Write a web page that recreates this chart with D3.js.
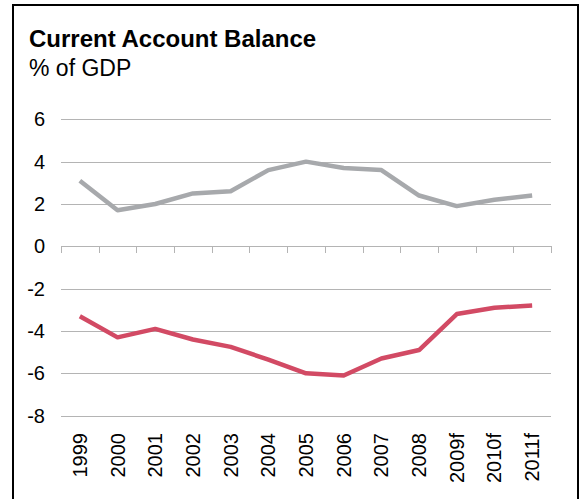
<!DOCTYPE html>
<html><head><meta charset="utf-8">
<script src="https://cdn.jsdelivr.net/npm/d3@7"></script>
<style>html,body{margin:0;padding:0;background:#fff;}svg{display:block;}</style>
</head><body>
<svg id="chart" width="580" height="499"></svg>
<script>
const categories = ["1999","2000","2001","2002","2003","2004","2005","2006","2007","2008","2009f","2010f","2011f"];
const seriesGray = [3.1, 1.7, 2.0, 2.5, 2.6, 3.6, 4.0, 3.7, 3.6, 2.4, 1.9, 2.2, 2.4];
const seriesRed = [-3.3, -4.3, -3.9, -4.4, -4.75, -5.35, -6.0, -6.1, -5.3, -4.9, -3.2, -2.9, -2.8];
const yTicks = [6, 4, 2, 0, -2, -4, -6, -8];
const titleText = "Current Account Balance";
const subtitleText = "% of GDP";

const svg = d3.select("#chart");
const font = "Liberation Sans, Arial, Helvetica, sans-serif";

// frame
svg.append("rect").attr("x", 13).attr("y", 5).attr("width", 565).attr("height", 520)
  .attr("fill", "none").attr("stroke", "#000").attr("stroke-width", 2);

const x = d3.scaleBand().domain(categories).range([61, 551]).paddingInner(0).paddingOuter(0);
const y = d3.scaleLinear().domain([-8, 6]).range([415.7, 119.3]);

// gridlines
svg.append("g").selectAll("line").data(yTicks).join("line")
  .attr("x1", 61).attr("x2", 551)
  .attr("y1", d => Math.round(y(d)) + 0.5).attr("y2", d => Math.round(y(d)) + 0.5)
  .attr("stroke", "#b4b4b4").attr("stroke-width", 1);

// y labels
svg.append("g").selectAll("text").data(yTicks).join("text")
  .attr("x", 45).attr("y", d => y(d)).attr("dy", "0.35em")
  .attr("text-anchor", "end").attr("font-family", font).attr("font-size", 20)
  .attr("fill", "#000").text(d => d);

// category ticks on zero line
const tickPos = categories.map(c => x(c)).concat([x.range()[1]]);
svg.append("g").selectAll("line").data(tickPos).join("line")
  .attr("x1", d => Math.round(d) + 0.5).attr("x2", d => Math.round(d) + 0.5)
  .attr("y1", Math.round(y(0))).attr("y2", Math.round(y(0)) + 7)
  .attr("stroke", "#b4b4b4").attr("stroke-width", 1);

// x labels rotated
svg.append("g").selectAll("text").data(categories).join("text")
  .attr("transform", d => `translate(${x(d) + x.bandwidth() / 2},433) rotate(-90)`)
  .attr("dy", "0.35em").attr("text-anchor", "end")
  .attr("font-family", font).attr("font-size", 20).attr("fill", "#000").text(d => d);

const line = d3.line().x((d, i) => x(categories[i]) + x.bandwidth() / 2).y(d => y(d));
svg.append("path").datum(seriesGray).attr("d", line)
  .attr("fill", "none").attr("stroke", "#a7a9ac").attr("stroke-width", 4.5).attr("stroke-linejoin", "round");
svg.append("path").datum(seriesRed).attr("d", line)
  .attr("fill", "none").attr("stroke", "#d24a64").attr("stroke-width", 4.5).attr("stroke-linejoin", "round");

// titles
svg.append("text").attr("x", 29).attr("y", 47)
  .attr("font-family", font).attr("font-size", 24).attr("font-weight", "bold")
  .attr("fill", "#000").text(titleText);
svg.append("text").attr("x", 29).attr("y", 76)
  .attr("font-family", font).attr("font-size", 23)
  .attr("fill", "#000").text(subtitleText);
</script>
</body></html>
